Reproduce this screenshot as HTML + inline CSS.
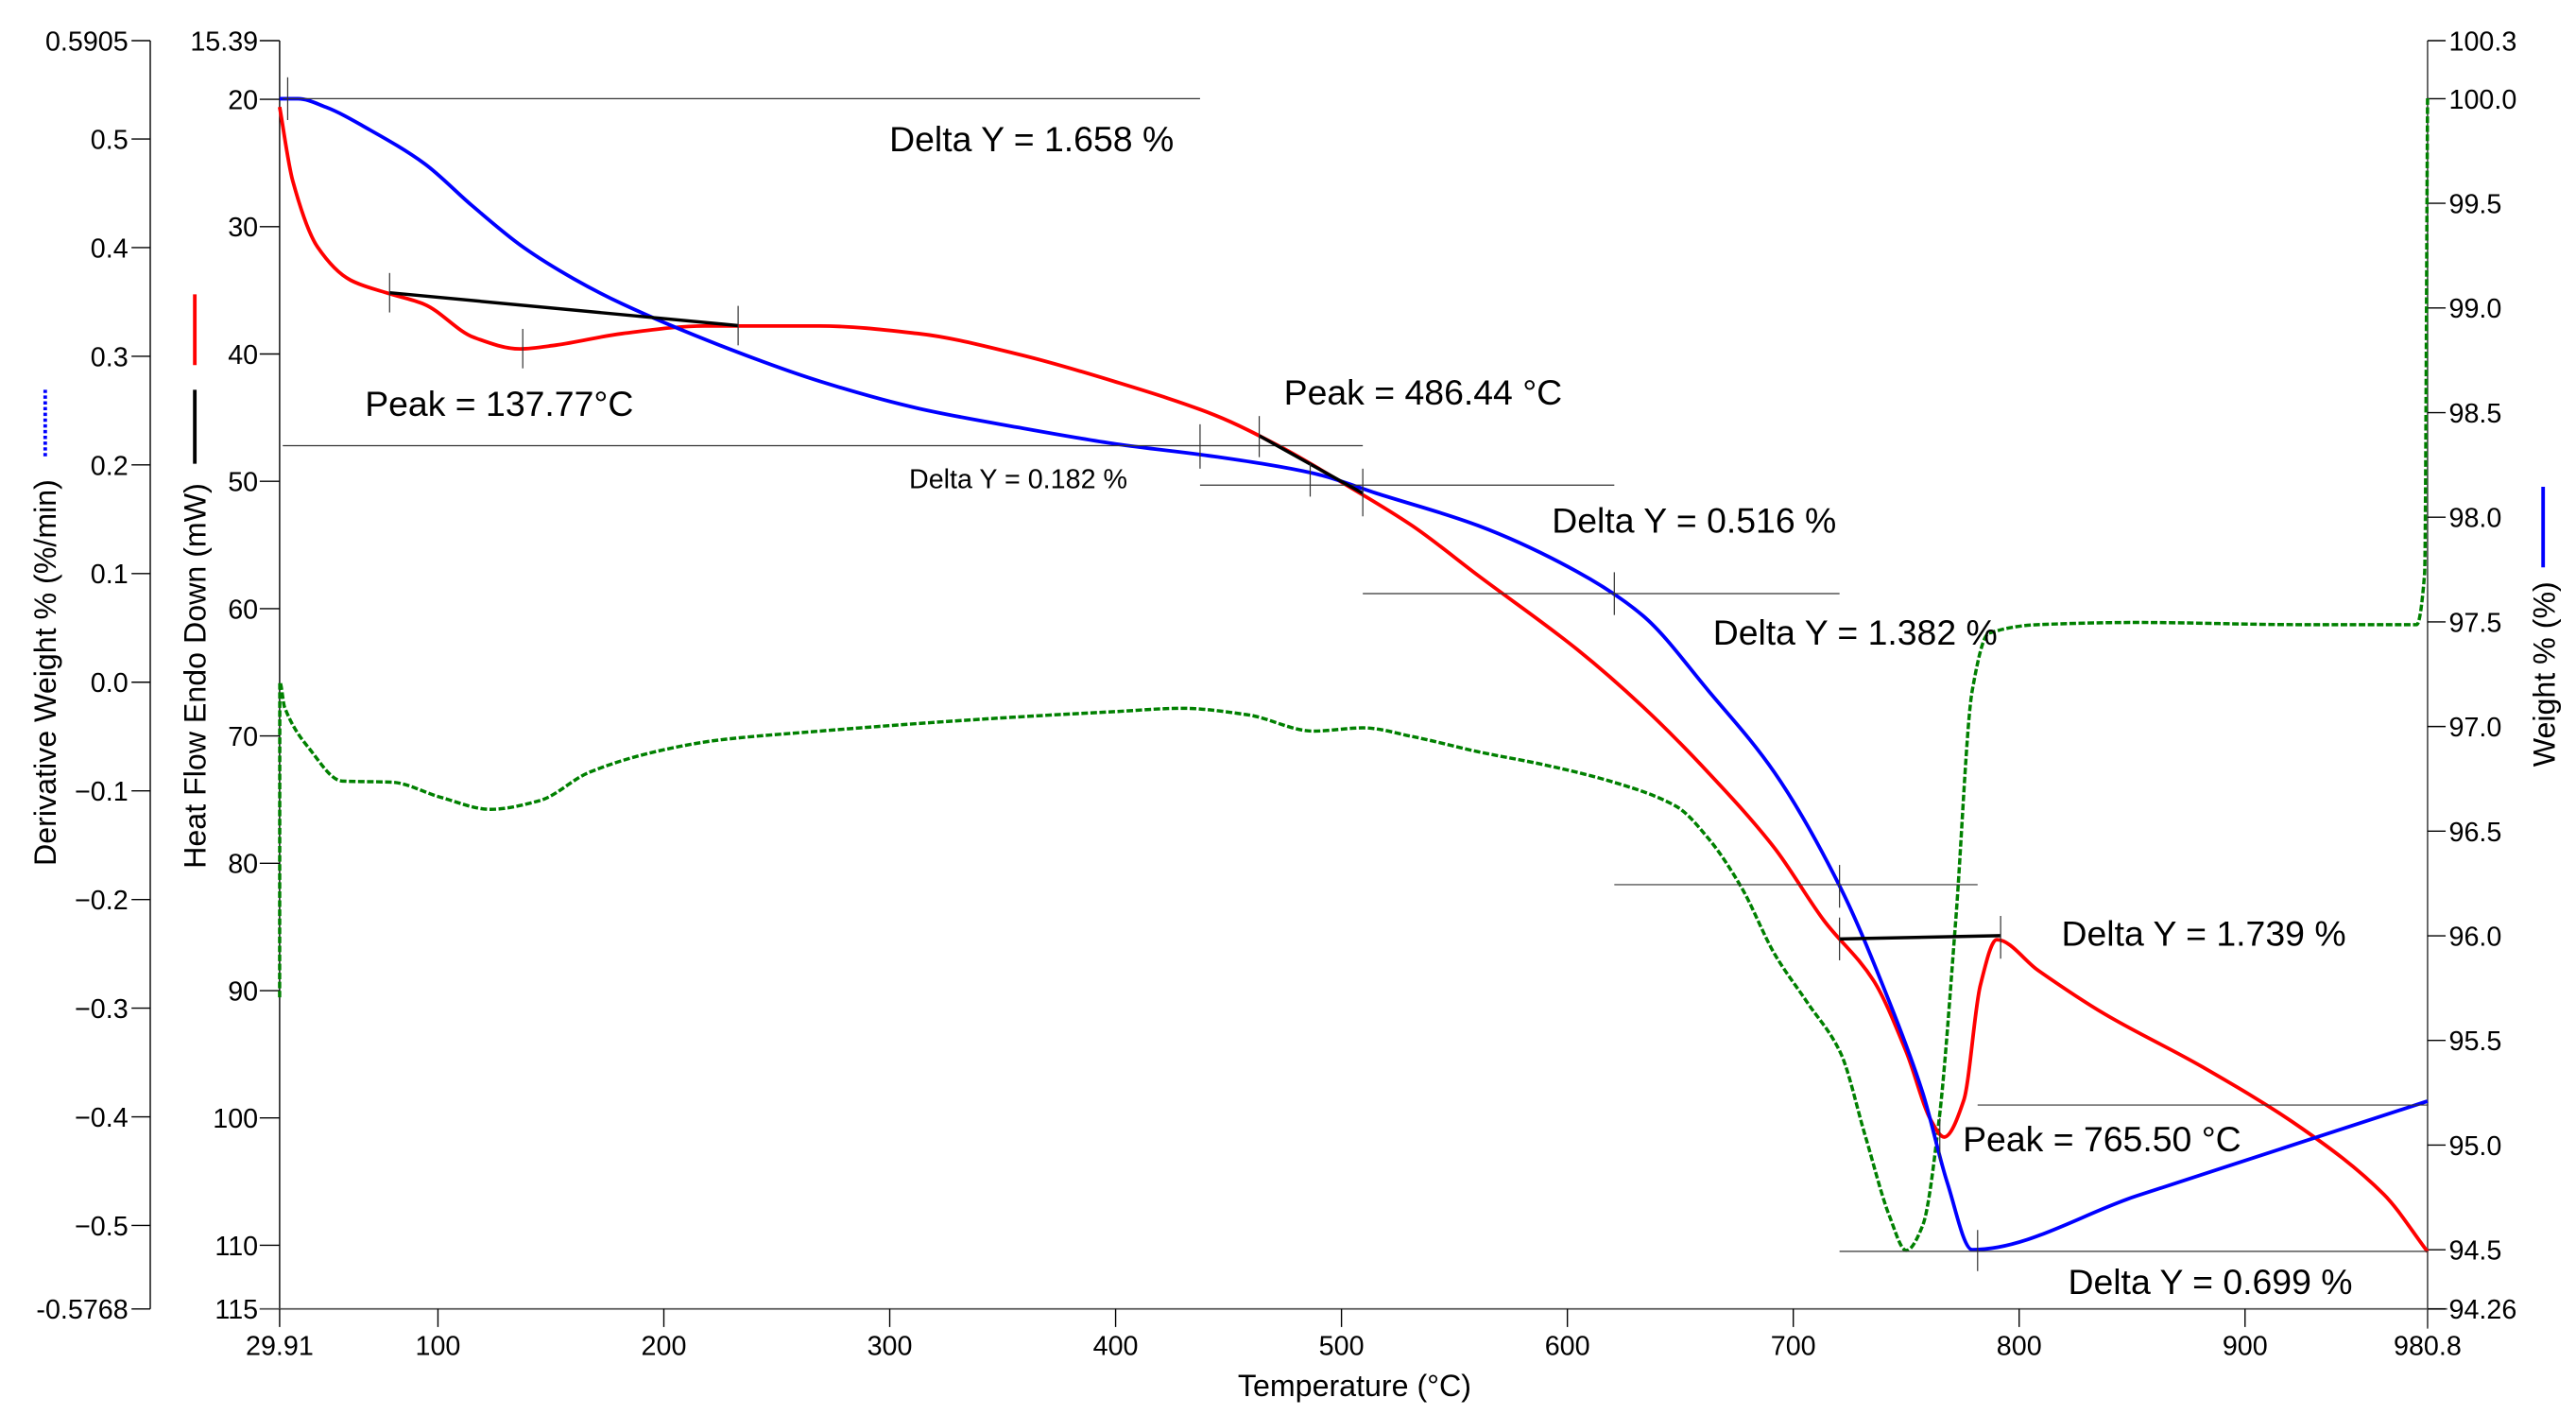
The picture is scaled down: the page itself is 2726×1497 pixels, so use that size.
<!DOCTYPE html>
<html><head><meta charset="utf-8"><style>
html,body{margin:0;padding:0;background:#fff}
svg{display:block}
text{font-family:"Liberation Sans",Arial,sans-serif;fill:#000}
</style></head><body>
<svg id="chart" width="2726" height="1497" viewBox="0 0 1567 860.5" xmlns="http://www.w3.org/2000/svg">
<g id="axes"></g>
<g id="series"></g>
<g id="annot"></g>
</svg>
<script>
// ---- data ----
const xTicks = [100,200,300,400,500,600,700,800,900];
const heatTicks = [20,30,40,50,60,70,80,90,100,110];
const derivTicks = [-0.5,-0.4,-0.3,-0.2,-0.1,0.0,0.1,0.2,0.3,0.4,0.5];
const weightTicks = [94.5,95.0,95.5,96.0,96.5,97.0,97.5,98.0,98.5,99.0,99.5,100.0];

const weightT = [29.91,38,50.3,70,94,115,137.8,160,181.5,225.2,269,312.7,356.4,400.2,443.9,487.6,516.8,560.5,604.3,633.4,662.5,691.7,720.9,742.7,757.3,768.2,779.2,852,925,980.8];
const weightV = [100.0,100.0,99.96,99.85,99.69,99.49,99.29,99.14,99.02,98.82,98.65,98.52,98.43,98.35,98.29,98.21,98.11,97.96,97.74,97.53,97.17,96.78,96.23,95.68,95.25,94.82,94.50,94.757,95.014,95.21];

const heatT = [29.91,35.7,46.7,61.3,77.3,94,115.9,136.3,152.4,181.5,218,269,312.7,356.4,400.2,443.9,473.1,502.2,531.4,560.5,604.3,633.4,662.5,691.7,713.6,735.5,750,761,766.8,775.5,782.8,790.1,808.3,837.5,881.2,925,961.4,980.8];
const heatV = [20.6,26.4,31.6,34.2,35.2,36.1,38.7,39.6,39.3,38.4,37.8,37.8,38.4,40,42.2,44.8,47.3,50.3,53.5,57.4,63.2,67.7,72.9,78.8,84.5,89.2,94.8,100.2,101.5,98.6,89.6,86,88.4,91.8,96.0,100.8,106.0,110.5];

const derivT = [29.91,30.0,32.1,43,57.6,79.5,101.3,123.2,145,166.9,196.1,225.2,269,312.7,356.4,400.2,429.3,458.5,487.6,509.5,531.4,560.5,589.7,618.8,648,662.5,677.1,691.7,706.3,720.9,731.8,742.7,750,757.3,764.6,771.9,779.2,786.5,808.3,852,925,976,979.5,980.8];
const derivV = [-0.29,0.0,-0.023,-0.061,-0.091,-0.092,-0.106,-0.117,-0.109,-0.083,-0.064,-0.053,-0.045,-0.038,-0.032,-0.027,-0.024,-0.030,-0.045,-0.042,-0.05,-0.064,-0.076,-0.091,-0.114,-0.144,-0.189,-0.25,-0.295,-0.341,-0.417,-0.492,-0.523,-0.5,-0.402,-0.22,-0.008,0.045,0.053,0.055,0.053,0.053,0.1,0.538];

// ---- axis functions ----
const X0=170.1,X1=1476.7,Y0=24.7,Y1=796;
const xS=t=>X0+(t-29.91)/(980.8-29.91)*(X1-X0);
const hS=v=>Y0+(v-15.39)/(115-15.39)*(Y1-Y0);
const dS=v=>Y0+(0.5905-v)/(0.5905+0.5768)*(Y1-Y0);
const wS=v=>60+(100-v)/5.5*700;

const NS="http://www.w3.org/2000/svg";
function mk(parent,tag,attrs,txt){const e=document.createElementNS(NS,tag);for(const k in attrs)e.setAttribute(k,attrs[k]);if(txt!==undefined)e.textContent=txt;parent.appendChild(e);return e;}
const axes=document.getElementById('axes'),series=document.getElementById('series'),annot=document.getElementById('annot');
const FS=16.5, TF=18.5;

// left derivative axis
let e=mk(axes,'line',{x1:91.4,y1:Y0,x2:91.4,y2:Y1,stroke:'#000','stroke-width':0.8});


const dAll=[0.5905].concat(derivTicks).concat([-0.5768]);
dAll.forEach((v,i)=>{const y=(i==0)?Y0:(i==dAll.length-1)?Y1:dS(v);
 mk(axes,'line',{x1:80,y1:y,x2:91.4,y2:y,stroke:'#000','stroke-width':0.8});
 const t=mk(axes,'text',{x:78,y:y+6,'text-anchor':'end','font-size':FS},(i==0||i==dAll.length-1)?String(v):(v<0?'\u2212'+Math.abs(v).toFixed(1):v.toFixed(1)));
 
 
});
// heat axis
e=mk(axes,'line',{x1:X0,y1:Y0,x2:X0,y2:Y1,stroke:'#000','stroke-width':0.8});


const hAll=[15.39].concat(heatTicks).concat([115]);
hAll.forEach(v=>{const y=hS(v);
 mk(axes,'line',{x1:158,y1:y,x2:X0,y2:y,stroke:'#000','stroke-width':0.8});
 const t=mk(axes,'text',{x:157,y:y+6,'text-anchor':'end','font-size':FS},String(v));
 
 
});
// bottom axis
e=mk(axes,'line',{x1:158,y1:Y1,x2:X1+12,y2:Y1,stroke:'#555','stroke-width':1});


const xAll=[29.91].concat(xTicks).concat([980.8]);
xAll.forEach(v=>{const x=xS(v);
 mk(axes,'line',{x1:x,y1:Y1,x2:x,y2:Y1+11,stroke:'#000','stroke-width':0.8});
 const t=mk(axes,'text',{x:x,y:Y1+28,'text-anchor':'middle','font-size':FS},String(v));
 
 
});
// right axis
e=mk(axes,'line',{x1:X1,y1:Y0,x2:X1,y2:Y1+12,stroke:'#555','stroke-width':1});


const wAll=[[100.3,Y0]].concat(weightTicks.map(v=>[v,wS(v)])).concat([[94.26,Y1]]);
wAll.forEach(([v,y])=>{
 mk(axes,'line',{x1:X1,y1:y,x2:X1+11,y2:y,stroke:'#000','stroke-width':0.8});
 const s=(v==100.3||v==94.26)?String(v):v.toFixed(1);
 const t=mk(axes,'text',{x:X1+13,y:y+6,'font-size':FS},s);
 
 
});
// axis titles
e=mk(axes,'text',{x:0,y:0,'font-size':TF,'text-anchor':'middle',transform:'translate(34,409) rotate(-90)'},'Derivative Weight % (%/min)');


mk(axes,'line',{x1:27.5,y1:237,x2:27.5,y2:278,stroke:'#0000ff','stroke-width':2.2,'stroke-dasharray':'2,1.5'});
e=mk(axes,'text',{x:0,y:0,'font-size':TF,'text-anchor':'middle',transform:'translate(125,411) rotate(-90)'},'Heat Flow Endo Down (mW)');


mk(axes,'line',{x1:118.5,y1:179,x2:118.5,y2:222,stroke:'#ff0000','stroke-width':2.2});
mk(axes,'line',{x1:118.5,y1:237,x2:118.5,y2:282,stroke:'#000','stroke-width':2.2});
e=mk(axes,'text',{x:0,y:0,'font-size':TF,'text-anchor':'middle',transform:'translate(1554,410) rotate(-90)'},'Weight % (%)');


mk(axes,'line',{x1:1547,y1:296,x2:1547,y2:345,stroke:'#0000ff','stroke-width':2.2});
e=mk(axes,'text',{x:824,y:849,'font-size':TF,'text-anchor':'middle'},'Temperature (\u00B0C)');



// series: monotone cubic smoothing
function path(T,V,ys){
 const P=T.map((t,i)=>[xS(t),ys(V[i])]);const n=P.length;
 const d=[],m=[];
 for(let i=0;i<n-1;i++){const dx=P[i+1][0]-P[i][0];d.push(dx>1e-6?(P[i+1][1]-P[i][1])/dx:null);}
 for(let i=0;i<n;i++){
  const a=i>0?d[i-1]:null,b=i<n-1?d[i]:null;
  if(a===null||b===null){m.push(a===null?(b===null?0:b):a);continue;}
  m.push(a*b<=0?0:2*a*b/(a+b));
 }
 let s='M'+P[0][0].toFixed(2)+','+P[0][1].toFixed(2);
 for(let i=0;i<n-1;i++){
  const dx=P[i+1][0]-P[i][0];
  if(d[i]===null){s+=' L'+P[i+1][0].toFixed(2)+','+P[i+1][1].toFixed(2);continue;}
  const m0=(i>0&&d[i-1]===null)?d[i]:m[i], m1=(i+1<n-1&&d[i+1]===null)?d[i]:m[i+1];
  s+=' C'+(P[i][0]+dx/3).toFixed(2)+','+(P[i][1]+m0*dx/3).toFixed(2)+' '+(P[i+1][0]-dx/3).toFixed(2)+','+(P[i+1][1]-m1*dx/3).toFixed(2)+' '+P[i+1][0].toFixed(2)+','+P[i+1][1].toFixed(2);
 }
 return s;
}
e=mk(series,'path',{d:path(derivT,derivV,dS),fill:'none',stroke:'#008000','stroke-width':2,'stroke-dasharray':'4,1.5'});


e=mk(series,'path',{d:path(heatT,heatV,hS),fill:'none',stroke:'#ff0000','stroke-width':2.2,'stroke-linejoin':'round'});


e=mk(series,'path',{d:path(weightT,weightV,wS),fill:'none',stroke:'#0000ff','stroke-width':2.2,'stroke-linejoin':'round'});



// annotations
function hl(x1,x2,y){mk(annot,'line',{x1:x1,y1:y,x2:x2,y2:y,stroke:'#333','stroke-width':0.7});}
function tk(x,y1,y2){mk(annot,'line',{x1:x,y1:y1,x2:x,y2:y2,stroke:'#333','stroke-width':0.7});}
function bl(x1,y1,x2,y2){mk(annot,'line',{x1:x1,y1:y1,x2:x2,y2:y2,stroke:'#000','stroke-width':2});}
hl(172,730,60); tk(175,47,73);
bl(237,178,449,198); tk(237,166,190); tk(318,200,224); tk(449,186,210);
hl(172,829,271); tk(730,258,285);
hl(730,982,295); bl(766,265,829,300); tk(766,253,278); tk(797,282,302); tk(829,285,314);
hl(829,1119,361); tk(982,348,374);
hl(982,1203,538); tk(1119,526,552);
bl(1119,571,1217,569); tk(1119,558,584); tk(1217,557,583);
hl(1203,1477,672); tk(1180,680,706);
hl(1119,1477,761); tk(1203,748,773);
const labels=[
 ['Delta Y = 1.658 %',541,92,21.5,'delta-y-1658'],
 ['Peak = 137.77°C',222,253,21.5,'peak-137-label'],
 ['Delta Y = 0.182 %',553,297,16.5,'delta-y-0182'],
 ['Peak = 486.44 °C',781,246,21.5,'peak-486-label'],
 ['Delta Y = 0.516 %',944,324,21.5,'delta-y-0516'],
 ['Delta Y = 1.382 %',1042,392,21.5,'delta-y-1382'],
 ['Delta Y = 1.739 %',1254,575,21.5,'delta-y-1739'],
 ['Peak = 765.50 °C',1194,700,21.5,'peak-765-label'],
 ['Delta Y = 0.699 %',1258,787,21.5,'delta-y-0699']];
labels.forEach(([s,x,y,f,n])=>{const t=mk(annot,'text',{x:x,y:y,'font-size':f},s);
 
 
});
</script>
</body></html>
